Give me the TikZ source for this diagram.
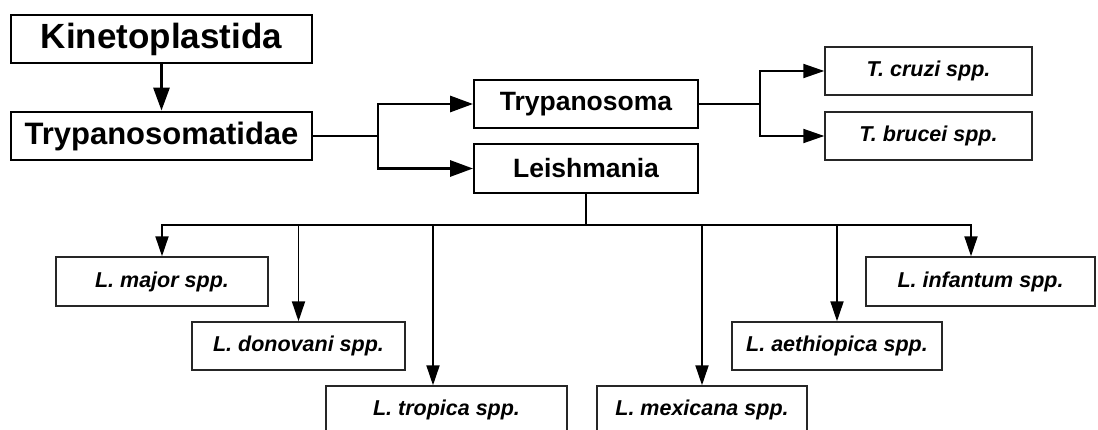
\documentclass[tikz,border=0pt]{standalone}
\usepackage{fontspec}
\setmainfont{Liberation Sans}
\usetikzlibrary{arrows.meta}
\begin{document}
\begin{tikzpicture}[x=1pt,y=-1pt,
  topbox/.style={draw=black,line width=2.8pt,inner sep=0pt,font=\bfseries},
  genbox/.style={draw=black,line width=1.9pt,inner sep=0pt,minimum width=224pt,minimum height=48pt,font=\fontsize{26.5}{30}\selectfont\bfseries},
  spbox/.style={draw=black!85,line width=1.4pt,inner sep=0pt,minimum height=48pt,font=\fontsize{21.5}{25}\selectfont\bfseries\itshape},
  thickline/.style={line width=2.9pt},
  midline/.style={line width=1.9pt},
  thinline/.style={line width=1.9pt},
  bigarr/.style={-{Triangle[length=23pt,width=16pt]}},
  medarr/.style={-{Triangle[length=21pt,width=14pt]}},
  smallarr/.style={-{Triangle[length=20pt,width=13pt]}}]
\useasboundingbox (0,0) rectangle (1098,430);
\clip (0,0) rectangle (1098,430);

% upper levels
\node[topbox,minimum width=301pt,minimum height=48pt,font=\fontsize{35}{40}\selectfont\bfseries] (kin) at (161.5,39) {Kinetoplastida};
\node[topbox,minimum width=301pt,minimum height=48pt,font=\fontsize{31}{36}\selectfont\bfseries] (tryd) at (161.5,136) {Trypanosomatidae};
\node[genbox] (tryp) at (586,104) {Trypanosoma};
\node[genbox,minimum height=49pt] (leish) at (586,168.5) {Leishmania};

% Trypanosoma species
\node[spbox,minimum width=207pt] (cruzi) at (928.5,71) {T. cruzi spp.};
\node[spbox,minimum width=207pt] (brucei) at (928.5,136) {T. brucei spp.};

% Leishmania species
\node[spbox,minimum width=212pt,minimum height=49pt] (major) at (162,281.5) {L. major spp.};
\node[spbox,minimum width=213pt] (donov) at (298.5,346) {L. donovani spp.};
\node[spbox,minimum width=241pt] (trop) at (446.5,410) {L. tropica spp.};
\node[spbox,minimum width=210pt] (mexi) at (702,410) {L. mexicana spp.};
\node[spbox,minimum width=210pt] (aeth) at (837,346) {L. aethiopica spp.};
\node[spbox,minimum width=229pt,minimum height=49pt] (infan) at (980.5,281.5) {L. infantum spp.};

% junction points
\coordinate (j1) at (378,136);
\coordinate (j2) at (760,104);
\coordinate (bus) at (586,225);

% connectors
\draw[thickline,bigarr] (kin.south) -- (tryd.north);
\draw[thickline] (tryd.east) -- (j1);
\draw[thickline,bigarr] (j1) |- (tryp.west);
\draw[thickline,bigarr] (j1) |- (leish.west);

\draw[midline] (tryp.east) -- (j2);
\draw[midline,medarr] (j2) |- (cruzi.west);
\draw[midline,medarr] (j2) |- (brucei.west);

\draw[thinline] (leish.south) -- (bus);
\draw[thinline,smallarr] (bus) -| (major.north);
\draw[thinline,smallarr] (bus) -| (donov.north);
\draw[thinline,smallarr] (bus) -| ([xshift=-13.5pt]trop.north);
\draw[thinline,smallarr] (bus) -| (mexi.north);
\draw[thinline,smallarr] (bus) -| (aeth.north);
\draw[thinline,smallarr] (bus) -| ([xshift=-9.5pt]infan.north);
\end{tikzpicture}
\end{document}
